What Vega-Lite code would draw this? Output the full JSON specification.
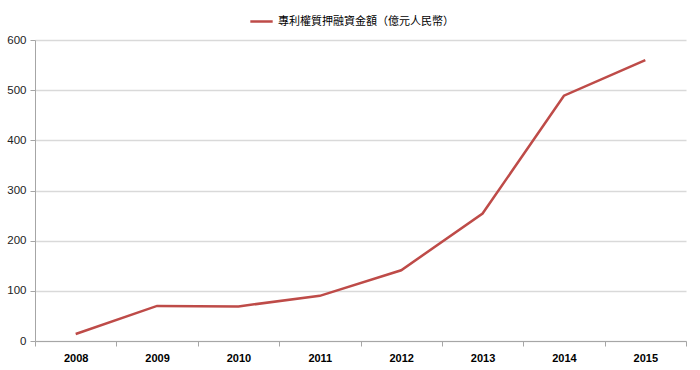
{
  "$schema": "https://vega.github.io/schema/vega-lite/v6.json",
  "autosize": "none",
  "width": 651,
  "height": 301,
  "padding": {"left": 35, "top": 40, "right": 14, "bottom": 29},
  "background": "white",
  "config": {"view": {"stroke": null}},
  "data": {"values": [
    {"year": "2008", "value": 14, "series": "專利權質押融資金額（億元人民幣）"},
    {"year": "2009", "value": 70, "series": "專利權質押融資金額（億元人民幣）"},
    {"year": "2010", "value": 69, "series": "專利權質押融資金額（億元人民幣）"},
    {"year": "2011", "value": 90, "series": "專利權質押融資金額（億元人民幣）"},
    {"year": "2012", "value": 141, "series": "專利權質押融資金額（億元人民幣）"},
    {"year": "2013", "value": 254, "series": "專利權質押融資金額（億元人民幣）"},
    {"year": "2014", "value": 489, "series": "專利權質押融資金額（億元人民幣）"},
    {"year": "2015", "value": 560, "series": "專利權質押融資金額（億元人民幣）"}
  ]},
  "mark": {"type": "line", "strokeWidth": 2.5},
  "encoding": {
    "x": {
      "field": "year", "type": "ordinal",
      "scale": {"paddingInner": 0, "paddingOuter": 0},
      "axis": {
        "title": null, "labelAngle": 0, "tickBand": "extent",
        "labelFont": "Liberation Sans", "labelFontWeight": "bold", "labelFontSize": 11,
        "labelColor": "#000", "labelPadding": 6,
        "domainColor": "#a6a6a6", "tickColor": "#a6a6a6", "tickSize": 5,
        "grid": false
      }
    },
    "y": {
      "field": "value", "type": "quantitative",
      "scale": {"domain": [0, 600]},
      "axis": {
        "title": null, "values": [0, 100, 200, 300, 400, 500, 600],
        "labelFont": "Liberation Sans", "labelFontSize": 11.5, "labelColor": "#222",
        "labelPadding": 4,
        "domainColor": "#a6a6a6", "tickColor": "#a6a6a6", "tickSize": 5,
        "grid": true, "gridColor": "#d9d9d9", "gridWidth": 1.5
      }
    },
    "color": {
      "field": "series", "type": "nominal",
      "scale": {"range": ["#be4b48"]},
      "legend": {
        "title": null, "orient": "none", "legendX": 214, "legendY": -31,
        "symbolType": "stroke", "symbolSize": 500, "symbolStrokeWidth": 2.5,
        "labelFont": "Noto Sans CJK TC", "labelFontSize": 11, "labelColor": "#000",
        "labelLimit": 400
      }
    }
  }
}
